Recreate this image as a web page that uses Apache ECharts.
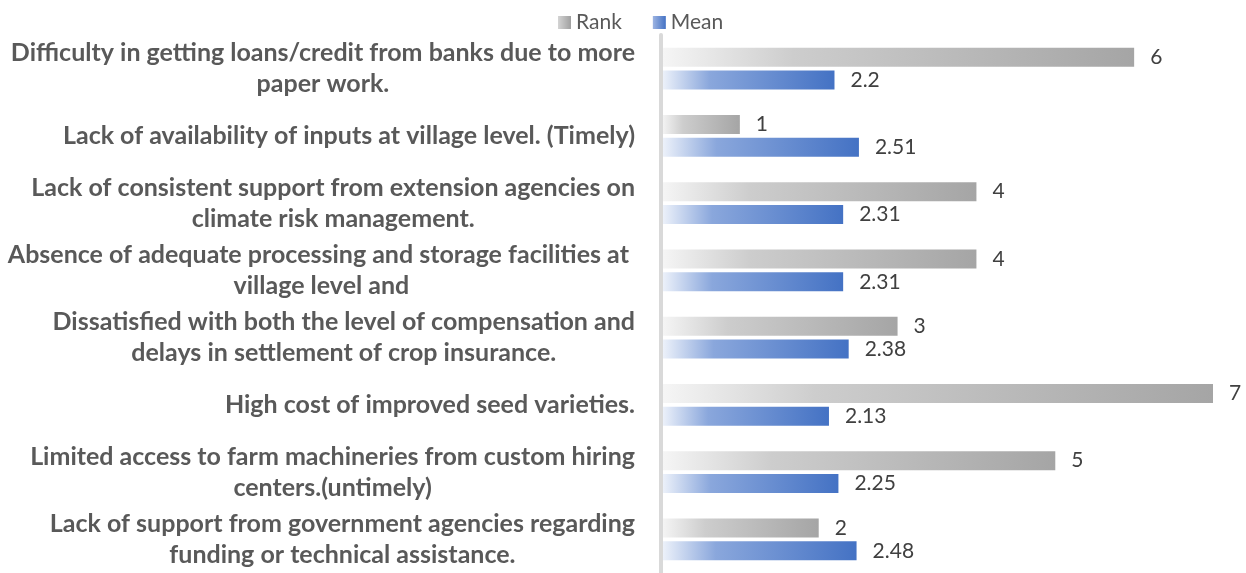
<!DOCTYPE html>
<html>
<head>
<meta charset="utf-8">
<script src="https://cdn.jsdelivr.net/npm/echarts@6/dist/echarts.min.js"></script>
<style>html,body{margin:0;padding:0;background:#fff}#c{width:1246px;height:573px}</style>
</head>
<body>
<div id="c"></div>
<script>
const categories = [
  "Difficulty in getting loans/credit from banks due to more\npaper work.",
  "Lack of availability of inputs at village level. (Timely)",
  "Lack of consistent support from extension agencies on\nclimate risk management.",
  "Absence of adequate processing and storage facilities at \nvillage level and",
  "Dissatisfied with both the level of compensation and\ndelays in settlement of crop insurance.",
  "High cost of improved seed varieties.",
  "Limited access to farm machineries from custom hiring\ncenters.(untimely)",
  "Lack of support from government agencies regarding\nfunding or technical assistance."
];
const rankValues = [6, 1, 4, 4, 3, 7, 5, 2];
const meanValues = [2.2, 2.51, 2.31, 2.31, 2.38, 2.13, 2.25, 2.48];

const grayGrad = new echarts.graphic.LinearGradient(0, 0, 1, 0, [
  {offset: 0, color: '#f6f6f6'},
  {offset: 0.28, color: '#cdcdcd'},
  {offset: 1, color: '#a5a5a5'}
]);
const blueGrad = new echarts.graphic.LinearGradient(0, 0, 1, 0, [
  {offset: 0, color: '#f0f4fb'},
  {offset: 0.28, color: '#8aa7dc'},
  {offset: 1, color: '#4472c4'}
]);
const grayIcon = new echarts.graphic.LinearGradient(0, 0, 1, 0, [
  {offset: 0, color: '#d4d4d4'}, {offset: 1, color: '#a0a0a0'}
]);
const blueIcon = new echarts.graphic.LinearGradient(0, 0, 1, 0, [
  {offset: 0, color: '#9db4e2'}, {offset: 1, color: '#4472c4'}
]);

const chart = echarts.init(document.getElementById('c'), null, {renderer: 'canvas'});
const valLabel = {show: true, position: 'right', distance: 16, color: '#404040', fontSize: 21, fontFamily: 'Lato'};
chart.setOption({
  animation: false,
  legend: {
    left: 553, top: 7, itemWidth: 13, itemHeight: 13, itemGap: 31, itemTextGap: 6,
    icon: 'rect',
    textStyle: {color: '#595959', fontSize: 21, fontFamily: 'Lato'},
    data: [{name: 'Rank', itemStyle: {color: grayIcon}}, {name: 'Mean', itemStyle: {color: blueIcon}}]
  },
  grid: {left: 661, right: 33, top: 35, height: 544, containLabel: false},
  xAxis: {type: 'value', min: 0, max: 7, show: false},
  yAxis: {
    type: 'category', inverse: true, data: categories, z: 5,
    axisLine: {show: true, lineStyle: {color: '#d9d9d9', width: 4}},
    axisTick: {show: false},
    axisLabel: {
      margin: 26,
      formatter: function (v) { return v.split('\n').map(l => '{c|' + l + '}').join('\n'); },
      rich: {c: {align: 'center', fontSize: 25, fontWeight: 'bold', fontFamily: 'Lato', color: '#595959', lineHeight: 31}}
    }
  },
  series: [
    {name: 'Rank', type: 'bar', data: rankValues, barWidth: 19, barGap: '21%', itemStyle: {color: grayGrad}, label: valLabel},
    {name: 'Mean', type: 'bar', data: meanValues, barWidth: 19, barGap: '21%', itemStyle: {color: blueGrad}, label: valLabel}
  ]
});
</script>
</body>
</html>
